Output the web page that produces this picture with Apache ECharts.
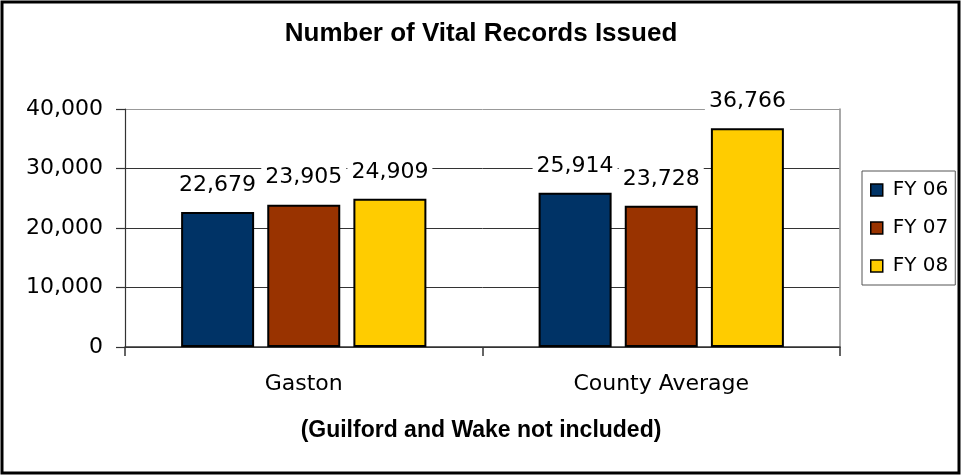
<!DOCTYPE html>
<html>
<head>
<meta charset="utf-8">
<script src="https://cdn.jsdelivr.net/npm/echarts@6/dist/echarts.min.js"></script>
<style>
  html, body { margin: 0; padding: 0; background: #fff; }
  #chart { width: 962px; height: 475px; }
</style>
</head>
<body>
<div id="chart"></div>
<script>
// data
var categories = ['Gaston', 'County Average']
var seriesNames = ['FY 06', 'FY 07', 'FY 08']
var fy06 = [22679, 25914]
var fy07 = [23905, 23728]
var fy08 = [24909, 36766]
var yTicks = [0, 10000, 20000, 30000, 40000]

var colors = ['#003366', '#993300', '#FFCC00']
var fontReg = '"DejaVu Sans", sans-serif'
var fontBold = '"Liberation Sans", Arial, sans-serif'

function fmt(v) {
  return Number(v).toLocaleString('en-US')
}

function makeSeries(name, data, i) {
  return {
    name: name,
    type: 'bar',
    data: data,
    barWidth: 73,
    barGap: '18%',
    itemStyle: {
      color: colors[i],
      borderColor: '#000',
      borderWidth: 2
    },
    label: {
      show: true,
      position: 'top',
      distance: 16,
      formatter: function (p) { return fmt(p.value) },
      fontFamily: fontReg,
      fontSize: 22,
      color: '#000',
      backgroundColor: '#fff',
      padding: [0, 4]
    }
  }
}

var chart = echarts.init(document.getElementById('chart'))

var option = {
  animation: false,
  backgroundColor: '#fff',
  title: [{
    text: 'Number of Vital Records Issued',
    left: 'center',
    top: 21,
    padding: 0,
    textStyle: { fontFamily: fontBold, fontWeight: 'bold', fontSize: 26, color: '#000' }
  }, {
    text: '(Guilford and Wake not included)',
    left: 'center',
    top: 419,
    padding: 0,
    textStyle: { fontFamily: fontBold, fontWeight: 'bold', fontSize: 23, color: '#000' }
  }],
  legend: {
    orient: 'vertical',
    left: 862,
    top: 171,
    padding: [9, 7, 9, 8],
    borderColor: '#555',
    borderWidth: 1,
    itemWidth: 12,
    itemHeight: 12,
    itemGap: 18,
    icon: 'rect',
    itemStyle: { borderColor: '#000', borderWidth: 1.5 },
    textStyle: { fontFamily: fontReg, fontSize: 20, color: '#000', padding: [0, 0, 0, 5] },
    data: seriesNames
  },
  grid: {
    left: 125,
    right: 122,
    top: 109,
    bottom: 128
  },
  xAxis: {
    type: 'category',
    data: categories,
    axisLine: { lineStyle: { color: '#333', width: 1.5 } },
    axisTick: { show: true, length: 9, lineStyle: { color: '#333', width: 1.5 } },
    axisLabel: { margin: 26, fontFamily: fontReg, fontSize: 22, color: '#000' }
  },
  yAxis: [{
    type: 'value',
    min: yTicks[0],
    max: yTicks[yTicks.length - 1],
    interval: 10000,
    axisLine: { show: true, lineStyle: { color: '#333', width: 1.2 } },
    axisTick: { show: true, length: 9, lineStyle: { color: '#333', width: 1.2 } },
    axisLabel: { margin: 22, fontFamily: fontReg, fontSize: 22, color: '#000', formatter: fmt },
    splitLine: { show: true, lineStyle: { color: ['#333', '#333', '#333', '#333', '#999'], width: [1] } }
  }, {
    // right edge of the plot frame
    type: 'value',
    position: 'right',
    min: yTicks[0],
    max: yTicks[yTicks.length - 1],
    axisLine: { show: true, lineStyle: { color: '#999', width: 1.7 } },
    axisTick: { show: false },
    axisLabel: { show: false },
    splitLine: { show: false }
  }],
  graphic: [{
    type: 'rect',
    shape: { x: 2, y: 2, width: 957, height: 471 },
    style: { fill: null, stroke: '#000', lineWidth: 3 },
    silent: true
  }],
  series: [
    makeSeries(seriesNames[0], fy06, 0),
    makeSeries(seriesNames[1], fy07, 1),
    makeSeries(seriesNames[2], fy08, 2)
  ]
}

chart.setOption(option)
</script>
</body>
</html>
